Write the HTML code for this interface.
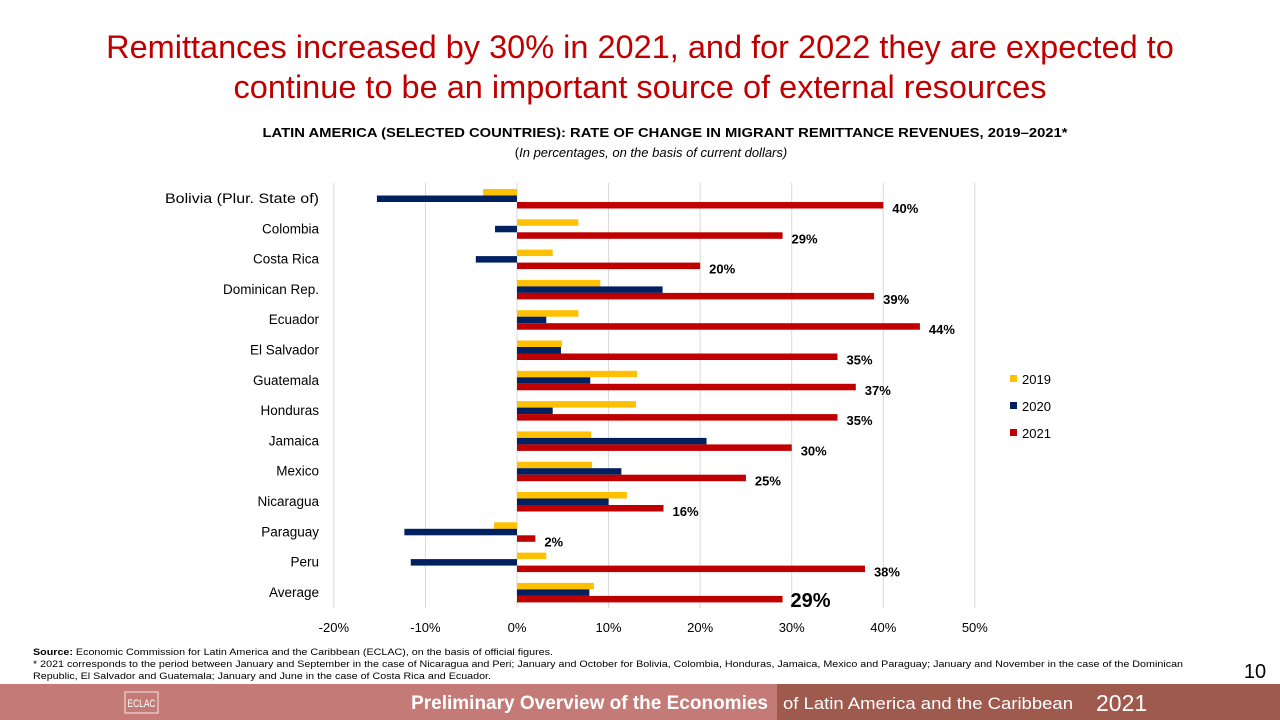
<!DOCTYPE html>
<html><head><meta charset="utf-8"><style>
body{margin:0;width:1280px;height:720px;overflow:hidden;background:#fff;font-family:"Liberation Sans",sans-serif;position:relative}
.t{position:absolute;left:0;width:1280px;text-align:center;color:#c00000;font-size:32.5px;line-height:40px}
</style></head><body>
<div class="t" style="top:27px">Remittances increased by 30% in 2021, and for 2022 they are expected to<br>continue to be an important source of external resources</div>
<svg width="1280" height="720" style="position:absolute;left:0;top:0" id="ch">
<text x="665" y="137" text-anchor="middle" font-size="13" font-weight="bold" textLength="805" lengthAdjust="spacingAndGlyphs">LATIN AMERICA (SELECTED COUNTRIES): RATE OF CHANGE IN MIGRANT REMITTANCE REVENUES, 2019–2021*</text>
<text x="651" y="157" text-anchor="middle" font-size="13">(<tspan font-style="italic">In percentages, on the basis of current dollars)</tspan></text>
<g id="grid"></g><g id="bars"></g><g id="labels"></g>
<g>
<rect x="1010" y="375" width="7" height="7" fill="#ffc000"/><text x="1022" y="384" font-size="13">2019</text>
<rect x="1010" y="402" width="7" height="7" fill="#002060"/><text x="1022" y="411" font-size="13">2020</text>
<rect x="1010" y="429" width="7" height="7" fill="#c00000"/><text x="1022" y="438" font-size="13">2021</text>
</g>
<text x="33" y="655" font-size="9" textLength="520" lengthAdjust="spacingAndGlyphs"><tspan font-weight="bold">Source:</tspan> Economic Commission for Latin America and the Caribbean (ECLAC), on the basis of official figures.</text>
<text x="33" y="667" font-size="9" textLength="1150" lengthAdjust="spacingAndGlyphs">* 2021 corresponds to the period between January and September in the case of Nicaragua and Peri; January and October for Bolivia, Colombia, Honduras, Jamaica, Mexico and Paraguay; January and November in the case of the Dominican</text>
<text x="33" y="679" font-size="9" textLength="458" lengthAdjust="spacingAndGlyphs">Republic, El Salvador and Guatemala; January and June in the case of Costa Rica and Ecuador.</text>
<text x="1255" y="678" font-size="20" text-anchor="middle">10</text>
<rect x="0" y="684" width="777" height="36" fill="#c47b77"/>
<rect x="777" y="684" width="503" height="36" fill="#9e5a4d"/>
<rect x="125" y="692" width="33" height="21" fill="none" stroke="#fff" stroke-width="0.8"/>
<text x="141.5" y="707" font-size="11" fill="#fff" text-anchor="middle" textLength="28" lengthAdjust="spacingAndGlyphs">ECLAC</text>
<text x="768" y="709" font-size="19" font-weight="bold" fill="#fff" text-anchor="end">Preliminary Overview of the Economies</text>
<text x="783" y="709" font-size="17" fill="#fff" textLength="290" lengthAdjust="spacingAndGlyphs">of Latin America and the Caribbean</text>
<text x="1096" y="711" font-size="23" fill="#fff" font-weight="300">2021</text>
</svg>
<script>
const categories=["Bolivia (Plur. State of)","Colombia","Costa Rica","Dominican Rep.","Ecuador","El Salvador","Guatemala","Honduras","Jamaica ","Mexico","Nicaragua","Paraguay","Peru","Average"];
const v2019=[-3.7,6.7,3.9,9.1,6.7,4.9,13.1,13.0,8.1,8.2,12.0,-2.5,3.2,8.4];
const v2020=[-15.3,-2.4,-4.5,15.9,3.2,4.8,8.0,3.9,20.7,11.4,10.0,-12.3,-11.6,7.9];
const v2021=[40,29,20,39,44,35,37,35,30,25,16,2,38,29];
const labels2021=["40%","29%","20%","39%","44%","35%","37%","35%","30%","25%","16%","2%","38%","29%"];
const ticks=[-20,-10,0,10,20,30,40,50];
const NS="http://www.w3.org/2000/svg";
const x=v=>517+v*9.157;
const yc=i=>199+i*30.3;
function mk(t,a,p){const e=document.createElementNS(NS,t);for(const k in a)e.setAttribute(k,a[k]);document.getElementById(p).appendChild(e);return e;}
ticks.forEach(t=>{
 const l=mk('line',{x1:x(t),x2:x(t),y1:183,y2:608,stroke:'#d9d9d9','stroke-width':1},'grid');
 
 
 const tx=mk('text',{x:x(t),y:632,'text-anchor':'middle','font-size':13},'grid');tx.textContent=t+'%';
 
 
});
const series=[[v2019,'#ffc000',-10],[v2020,'#002060',-3.5],[v2021,'#c00000',3]];
categories.forEach((c,i)=>{
 const t=mk('text',{x:319,y:yc(i)+4,'text-anchor':'end','font-size':13.5},'labels');t.textContent=c;
 if(i===0){t.setAttribute('textLength','154');t.setAttribute('lengthAdjust','spacingAndGlyphs');}
 
 
 series.forEach(([arr,col,off])=>{
  const v=arr[i];
  const r=mk('rect',{x:Math.min(x(0),x(v)),y:yc(i)+off,width:Math.abs(x(v)-x(0)),height:6.5,fill:col},'bars');
  
  
 });
 const big=i===categories.length-1;
 const l=mk('text',{x:x(v2021[i])+(big?8:9),y:yc(i)+14,'font-size':big?20:13,'font-weight':'bold'},'labels');
 l.textContent=labels2021[i];
 
 
});
</script>
</body></html>
